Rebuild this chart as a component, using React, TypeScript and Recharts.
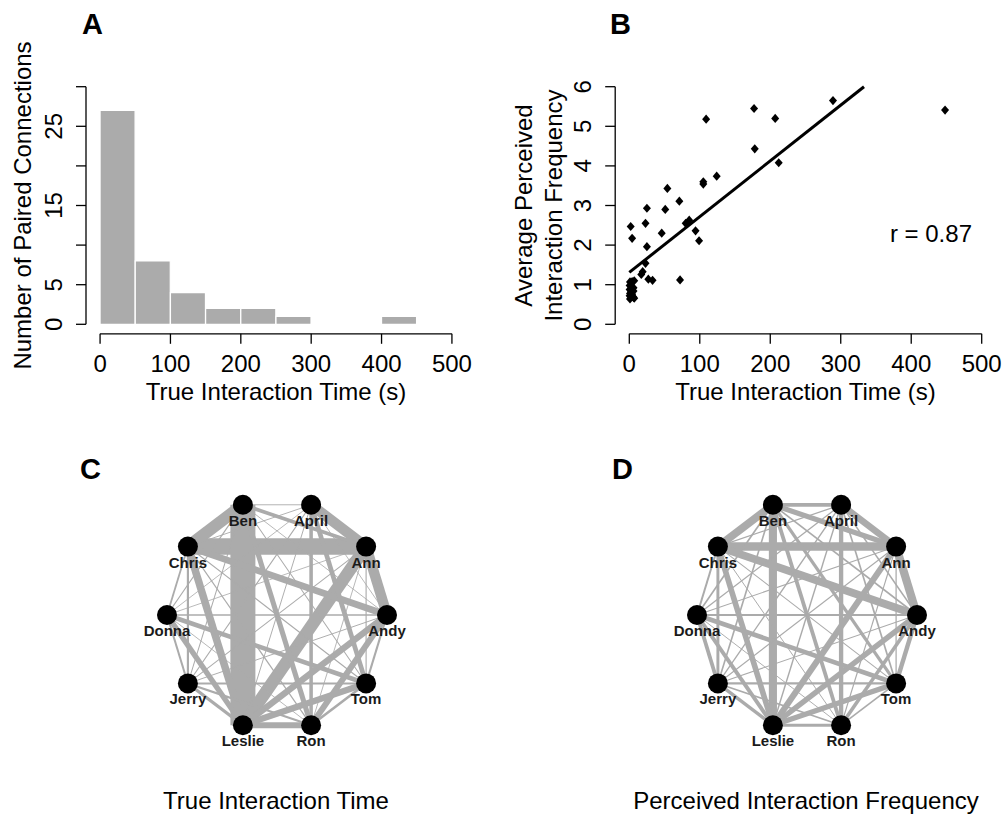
import React from 'react';
import {
  ComposedChart,
  Bar,
  ScatterChart,
  Scatter,
  XAxis,
  YAxis,
  ReferenceLine,
  ReferenceDot,
  Label,
} from 'recharts';

const FONT = '"Liberation Sans", Arial, Helvetica, sans-serif';
const GREY = '#ababab';

// Panel A: histogram of true interaction time (bins of 50 s)
const binStart = [0, 50, 100, 150, 200, 250, 300, 350, 400, 450];
const binCount = [27, 8, 4, 2, 2, 1, 0, 0, 1, 0];

const timeTicks = [0, 100, 200, 300, 400, 500];
const countTicks = [0, 5, 10, 15, 20, 25, 30];
const countLabels = [0, 5, 15, 25]; // R drops the labels that would overlap
const freqTicks = [0, 1, 2, 3, 4, 5, 6];

// Network nodes (unit circle layout)
const nodeNames = ['Ben', 'April', 'Ann', 'Andy', 'Tom', 'Ron', 'Leslie', 'Jerry', 'Donna', 'Chris'];
const nodeX = [-0.31, 0.31, 0.81, 1, 0.81, 0.31, -0.31, -0.81, -1, -0.81];
const nodeY = [0.95, 0.95, 0.59, 0, -0.59, -0.95, -0.95, -0.59, 0, 0.59];

// The 45 pairs: true interaction time (s) and average perceived frequency
const pairFrom = [0, 9, 0, 2, 2, 1, 9, 9, 3, 4, 5, 3, 8, 0, 8, 0, 1, 7, 1, 4, 3, 9, 8, 7, 9, 0, 0, 8, 7,
  0, 0, 0, 1, 1, 1, 1, 1, 2, 2, 2, 2, 3, 4, 5, 5];
const pairTo = [6, 2, 9, 3, 6, 2, 6, 3, 6, 6, 6, 5, 6, 5, 4, 2, 5, 6, 4, 5, 4, 7, 7, 4, 8, 1, 4, 3, 5,
  3, 7, 8, 3, 6, 7, 8, 9, 4, 5, 7, 8, 7, 9, 8, 9];
const pairTime = [448, 289, 207, 177, 212, 178, 124, 109, 105, 105, 99, 94, 85, 80, 71, 54, 51, 46, 72, 33,
  25, 25, 23, 23, 19, 2, 4, 17, 27,
  1, 4, 7, 0.5, 3, 6, 0.5, 2, 6, 1, 4, 0.5, 3, 6, 1, 7];
const pairFreq = [5.41, 5.65, 5.2, 5.45, 4.08, 4.43, 3.74, 5.18, 3.6, 3.54, 2.11, 2.36, 2.63, 2.55, 3.11, 3.43,
  2.9, 2.3, 1.12, 1.11, 2.93, 1.96, 2.55, 1.54, 1.33, 2.47, 2.17, 1.26, 1.14,
  1.07, 1.08, 1.1, 0.98, 0.95, 0.92, 0.88, 0.85, 0.84, 0.78, 0.76, 0.72, 0.7, 0.68, 0.64, 0.66];

// regression line ends
const fitT = [0, 333];
const fitF = [1.31, 6];

const histData = binStart.map((s, i) => ({ mid: s + 25, count: binCount[i] }));
const scatterData = pairTime.map((t, i) => ({ t, f: pairFreq[i] }));
const nodes = nodeNames.map((name, i) => ({ x: nodeX[i], y: nodeY[i], name }));

const txt = { fontFamily: FONT, fill: '#000' };

const BottomTick = ({ x, y, payload }: any) => (
  <text x={x} y={y} dy={26} textAnchor="middle" fontSize={24} {...txt}>
    {payload.value}
  </text>
);

const makeLeftTick = (shown: number[]) => ({ x, y, payload }: any) => {
  if (!shown.includes(payload.value)) return <g />;
  const ax = x - 12;
  return (
    <text x={ax} y={y} transform={`rotate(-90 ${ax} ${y})`} textAnchor="middle" fontSize={24} {...txt}>
      {payload.value}
    </text>
  );
};

const RotTitle = ({ x, y, text }: { x: number; y: number; text: string }) => (
  <text x={x} y={y} transform={`rotate(-90 ${x} ${y})`} textAnchor="middle" fontSize={24} {...txt}>
    {text}
  </text>
);

const Diamond = ({ cx, cy }: any) => (
  <polygon points={`${cx},${cy - 4.6} ${cx + 4},${cy} ${cx},${cy + 4.6} ${cx - 4},${cy}`} fill="#000" />
);

const NoMark = () => <g />;

const NodeMark = ({ cx, cy, payload }: any) => (
  <g>
    <circle cx={cx} cy={cy} r={10} fill="#000" />
    <text x={cx} y={cy + 21} textAnchor="middle" fontSize={15} fontWeight="bold" fontFamily={FONT} fill="#1a1a1a">
      {payload.name}
    </text>
  </g>
);

const axisStroke = { stroke: '#000', strokeWidth: 1.3 };

const Histogram = () => (
  <ComposedChart width={500} height={420} data={histData} margin={{ top: 77.2, right: 34, bottom: 26.2, left: 26 }}>
    <XAxis
      type="number"
      dataKey="mid"
      domain={[-20, 520]}
      ticks={timeTicks}
      interval={0}
      allowDataOverflow
      height={60}
      axisLine={false}
      tickSize={10}
      tickLine={axisStroke}
      tick={BottomTick}
    >
      <Label content={() => <text x={276} y={400} textAnchor="middle" fontSize={24} {...txt}>True Interaction Time (s)</text>} />
    </XAxis>
    <YAxis
      type="number"
      domain={[-1.2, 31.2]}
      ticks={countTicks}
      interval={0}
      allowDataOverflow
      width={60}
      axisLine={false}
      tickSize={10}
      tickLine={axisStroke}
      tick={makeLeftTick(countLabels)}
    >
      <Label content={() => <RotTitle x={31} y={205.5} text="Number of Paired Connections" />} />
    </YAxis>
    <ReferenceLine segment={[{ x: 0, y: -1.2 }, { x: 500, y: -1.2 }]} {...axisStroke} ifOverflow="visible" />
    <ReferenceLine segment={[{ x: -20, y: 0 }, { x: -20, y: 30 }]} {...axisStroke} ifOverflow="visible" />
    <Bar dataKey="count" barSize={35} fill={GREY} stroke="#fff" strokeWidth={1.2} isAnimationActive={false} />
  </ComposedChart>
);

const Correlation = () => (
  <ScatterChart width={502} height={420} margin={{ top: 77.2, right: 6.2, bottom: 26.2, left: 55.2 }}>
    <XAxis
      type="number"
      dataKey="t"
      domain={[-20, 520]}
      ticks={timeTicks}
      interval={0}
      allowDataOverflow
      height={60}
      axisLine={false}
      tickSize={10}
      tickLine={axisStroke}
      tick={BottomTick}
    >
      <Label content={() => <text x={305.5} y={400} textAnchor="middle" fontSize={24} {...txt}>True Interaction Time (s)</text>} />
    </XAxis>
    <YAxis
      type="number"
      dataKey="f"
      domain={[-0.24, 6.24]}
      ticks={freqTicks}
      interval={0}
      allowDataOverflow
      width={60}
      axisLine={false}
      tickSize={10}
      tickLine={axisStroke}
      tick={makeLeftTick(freqTicks)}
    >
      <Label
        content={() => (
          <g>
            <RotTitle x={32} y={205.5} text="Average Perceived" />
            <RotTitle x={62} y={205.5} text="Interaction Frequency" />
          </g>
        )}
      />
    </YAxis>
    <ReferenceLine segment={[{ x: 0, y: -0.24 }, { x: 500, y: -0.24 }]} {...axisStroke} ifOverflow="visible" />
    <ReferenceLine segment={[{ x: -20, y: 0 }, { x: -20, y: 6 }]} {...axisStroke} ifOverflow="visible" />
    <ReferenceLine
      segment={[{ x: fitT[0], y: fitF[0] }, { x: fitT[1], y: fitF[1] }]}
      stroke="#000"
      strokeWidth={3}
      ifOverflow="visible"
    />
    <Scatter data={scatterData} shape={Diamond} isAnimationActive={false} />
    <ReferenceDot
      x={428}
      y={2.3}
      r={1}
      fill="none"
      stroke="none"
      ifOverflow="visible"
      label={{ value: 'r = 0.87', position: 'center', fontSize: 24, fontFamily: FONT, fill: '#000' }}
    />
  </ScatterChart>
);

const Network = ({ values, widthOf }: { values: number[]; widthOf: (v: number) => number }) => (
  <ScatterChart width={300} height={300} margin={{ top: 0, right: 0, bottom: 0, left: 0 }}>
    <XAxis type="number" dataKey="x" domain={[-1.3636, 1.3636]} hide allowDataOverflow />
    <YAxis type="number" dataKey="y" domain={[-1.293, 1.293]} hide allowDataOverflow />
    {pairFrom.map((a, k) => (
      <Scatter
        key={k}
        data={[nodes[a], nodes[pairTo[k]]]}
        line={{ stroke: GREY, strokeWidth: widthOf(values[k]) }}
        shape={NoMark}
        isAnimationActive={false}
      />
    ))}
    <Scatter data={nodes} shape={NodeMark} isAnimationActive={false} />
  </ScatterChart>
);

const abs = (left: number, top: number): React.CSSProperties => ({ position: 'absolute', left, top });

export default function App() {
  return (
    <div style={{ position: 'absolute', left: 0, top: 0, width: 1002, height: 815, background: '#fff', overflow: 'hidden' }}>
      <div style={abs(0, 0)}>
        <Histogram />
      </div>
      <div style={abs(500, 0)}>
        <Correlation />
      </div>
      <div style={abs(126.5, 464.5)}>
        <Network values={pairTime} widthOf={(t) => 0.8 + 0.054 * t} />
      </div>
      <div style={abs(656.5, 464.5)}>
        <Network values={pairFreq} widthOf={(f) => 1.5 * f} />
      </div>
      <svg width={1002} height={815} style={{ position: 'absolute', left: 0, top: 0, pointerEvents: 'none' }}>
        <g fontFamily={FONT} fontWeight="bold" fontSize={29} fill="#000">
          <text x={82} y={34}>A</text>
          <text x={610} y={34}>B</text>
          <text x={80} y={479}>C</text>
          <text x={612} y={479}>D</text>
        </g>
        <g fontFamily={FONT} fontSize={24} fill="#000" textAnchor="middle">
          <text x={276} y={809}>True Interaction Time</text>
          <text x={806} y={809}>Perceived Interaction Frequency</text>
        </g>
      </svg>
    </div>
  );
}
